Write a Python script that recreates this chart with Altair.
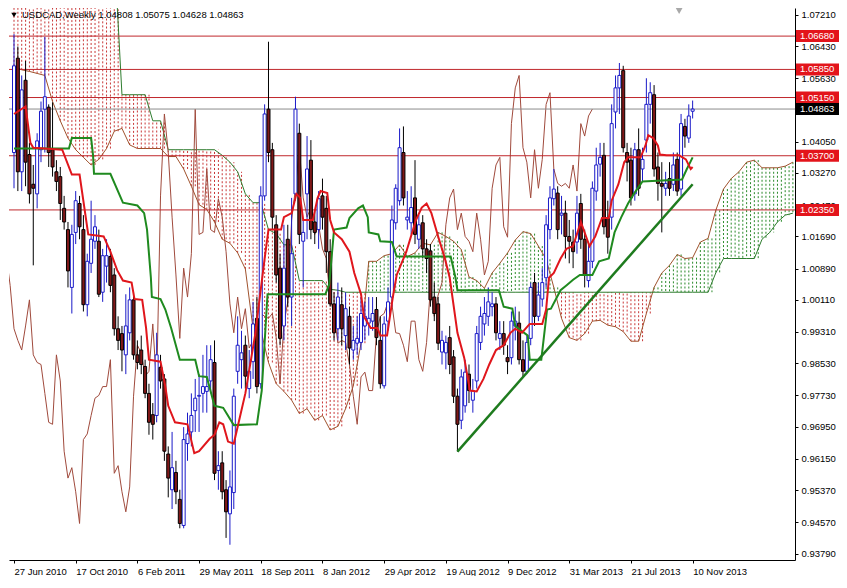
import altair as alt
import pandas as pd

# ---------------- data ----------------
opens = [
    1.0378, 1.0613, 1.0330, 1.0558, 1.0373, 1.0299, 1.0275, 1.0385, 1.0486, 1.0491,
    1.0385, 1.0330, 1.0318, 1.0239, 1.0186, 1.0042, 1.0179, 1.0251, 1.0186, 0.9999,
    1.0102, 1.0157, 1.0157, 1.0030, 1.0095, 1.0119, 1.0073, 0.9939, 0.9927, 0.9874,
    0.9929, 1.0011, 0.9874, 0.9886, 0.9845, 0.9778, 0.9725, 0.9723, 0.9843, 0.9814,
    0.9627, 0.9538, 0.9581, 0.9514, 0.9449, 0.9653, 0.9682, 0.9735, 0.9771, 0.9778,
    0.9783, 0.9809, 0.9855, 0.9586, 0.9605, 0.9538, 0.9478, 0.9531, 0.9833, 0.9862,
    0.9898, 0.9790, 0.9857, 0.9965, 0.9802, 1.0270, 1.0486, 1.0385, 1.0198, 1.0090,
    0.9946, 1.0162, 1.0018, 1.0275, 1.0426, 1.0157, 1.0275, 1.0359, 1.0205, 1.0186,
    1.0270, 1.0239, 1.0131, 1.0001, 0.9939, 0.9999, 0.9922, 0.9970, 0.9886, 0.9903,
    0.9905, 0.9946, 0.9953, 0.9958, 0.9987, 0.9910, 0.9797, 0.9958, 1.0018, 1.0203,
    1.0258, 1.0378, 1.0210, 1.0203, 1.0265, 1.0162, 1.0203, 1.0138, 1.0133, 1.0018,
    1.0001, 0.9881, 0.9879, 0.9917, 0.9869, 0.9771, 0.9711, 0.9747, 0.9826, 0.9761,
    0.9809, 0.9905, 0.9951, 0.9970, 0.9994, 1.0001, 0.9915, 0.9927, 0.9867, 0.9867,
    0.9946, 0.9953, 0.9862, 0.9833, 0.9915, 1.0054, 0.9970, 1.0013, 1.0066, 1.0186,
    1.0263, 1.0277, 1.0222, 1.0227, 1.0169, 1.0155, 1.0155, 1.0251, 1.0162, 1.0059,
    1.0107, 1.0282, 1.0349, 1.0371, 1.0215, 1.0217, 1.0479, 1.0539, 1.0582, 1.0378,
    1.0359, 1.0275, 1.0385, 1.0337, 1.0409, 1.0498, 1.0522, 1.0342, 1.0301, 1.0289,
    1.0313, 1.0299, 1.0361, 1.0287, 1.0443, 1.0414, 1.04808,
]
highs = [
    1.0673, 1.0642, 1.0570, 1.0606, 1.0402, 1.0347, 1.0426, 1.0505, 1.0666, 1.0498,
    1.0503, 1.0359, 1.0342, 1.0270, 1.0205, 1.0198, 1.0282, 1.0270, 1.0222, 1.0126,
    1.0258, 1.0222, 1.0186, 1.0138, 1.0162, 1.0138, 1.0090, 0.9970, 0.9946, 1.0025,
    1.0042, 1.0030, 0.9910, 0.9922, 0.9862, 0.9802, 0.9754, 0.9929, 0.9874, 0.9826,
    0.9646, 0.9682, 0.9610, 0.9538, 0.9694, 0.9730, 0.9778, 0.9814, 0.9826, 0.9874,
    0.9898, 0.9898, 0.9910, 0.9634, 0.9634, 0.9562, 0.9586, 0.9790, 0.9970, 0.9934,
    0.9922, 0.9886, 1.0006, 1.0018, 1.0294, 1.0498, 1.0654, 1.0402, 1.0222, 1.0126,
    1.0198, 1.0198, 1.0265, 1.0517, 1.0450, 1.0210, 1.0419, 1.0409, 1.0234, 1.0282,
    1.0313, 1.0270, 1.0162, 1.0030, 1.0054, 1.0042, 1.0030, 0.9994, 0.9946, 0.9970,
    1.0018, 1.0006, 1.0018, 1.0018, 1.0018, 0.9970, 0.9970, 1.0042, 1.0246, 1.0299,
    1.0438, 1.0443, 1.0282, 1.0294, 1.0359, 1.0222, 1.0222, 1.0162, 1.0150, 1.0054,
    1.0018, 0.9934, 0.9922, 0.9946, 0.9886, 0.9790, 0.9838, 0.9862, 0.9850, 0.9814,
    0.9946, 0.9994, 1.0018, 1.0042, 1.0030, 1.0018, 0.9958, 0.9958, 0.9898, 0.9982,
    0.9994, 0.9982, 0.9910, 0.9922, 1.0054, 1.0078, 1.0054, 1.0090, 1.0222, 1.0294,
    1.0337, 1.0294, 1.0270, 1.0258, 1.0210, 1.0186, 1.0270, 1.0275, 1.0186, 1.0150,
    1.0306, 1.0390, 1.0402, 1.0402, 1.0258, 1.0498, 1.0570, 1.0601, 1.0594, 1.0402,
    1.0390, 1.0402, 1.0438, 1.0390, 1.0563, 1.0553, 1.0546, 1.0378, 1.0354, 1.0330,
    1.0354, 1.0378, 1.0378, 1.0474, 1.0462, 1.0498, 1.05075,
]
lows = [
    1.0289, 1.0282, 1.0282, 1.0294, 1.0251, 1.0097, 1.0239, 1.0354, 1.0378, 1.0342,
    1.0318, 1.0282, 1.0210, 1.0186, 1.0042, 0.9977, 1.0150, 1.0162, 0.9982, 0.9970,
    1.0078, 1.0138, 1.0018, 1.0006, 1.0054, 1.0030, 0.9922, 0.9886, 0.9833, 0.9826,
    0.9910, 0.9862, 0.9838, 0.9826, 0.9766, 0.9675, 0.9663, 0.9706, 0.9790, 0.9610,
    0.9519, 0.9490, 0.9502, 0.9442, 0.9442, 0.9610, 0.9646, 0.9682, 0.9682, 0.9730,
    0.9730, 0.9778, 0.9562, 0.9538, 0.9514, 0.9418, 0.9401, 0.9490, 0.9802, 0.9790,
    0.9790, 0.9766, 0.9814, 0.9778, 0.9790, 1.0258, 1.0354, 1.0186, 1.0054, 0.9898,
    0.9910, 0.9994, 0.9946, 1.0258, 1.0150, 1.0042, 1.0162, 1.0162, 1.0150, 1.0138,
    1.0186, 1.0078, 0.9994, 0.9910, 0.9910, 0.9898, 0.9886, 0.9850, 0.9862, 0.9874,
    0.9886, 0.9910, 0.9922, 0.9934, 0.9898, 0.9790, 0.9790, 0.9934, 0.9994, 1.0186,
    1.0246, 1.0246, 1.0186, 1.0174, 1.0150, 1.0138, 1.0114, 1.0078, 0.9994, 0.9958,
    0.9886, 0.9850, 0.9838, 0.9826, 0.9754, 0.9633, 0.9689, 0.9730, 0.9754, 0.9730,
    0.9790, 0.9886, 0.9922, 0.9946, 0.9970, 0.9910, 0.9886, 0.9874, 0.9826, 0.9850,
    0.9910, 0.9850, 0.9819, 0.9826, 0.9898, 0.9946, 0.9958, 0.9994, 1.0042, 1.0162,
    1.0246, 1.0162, 1.0174, 1.0114, 1.0102, 1.0090, 1.0126, 1.0138, 1.0042, 1.0042,
    1.0090, 1.0258, 1.0318, 1.0174, 1.0126, 1.0186, 1.0438, 1.0474, 1.0378, 1.0306,
    1.0246, 1.0258, 1.0270, 1.0306, 1.0378, 1.0450, 1.0318, 1.0258, 1.0179, 1.0270,
    1.0270, 1.0282, 1.0270, 1.0270, 1.0390, 1.0402, 1.04628,
]
closes = [
    1.0594, 1.0330, 1.0534, 1.0354, 1.0275, 1.0289, 1.0407, 1.0481, 1.0517, 1.0378,
    1.0342, 1.0306, 1.0251, 1.0205, 1.0083, 1.0174, 1.0258, 1.0193, 0.9999, 1.0107,
    1.0162, 1.0193, 1.0025, 1.0121, 1.0121, 1.0047, 0.9939, 0.9910, 0.9886, 0.9946,
    1.0011, 0.9874, 0.9855, 0.9850, 0.9778, 0.9706, 0.9701, 0.9874, 0.9809, 0.9634,
    0.9567, 0.9593, 0.9533, 0.9454, 0.9663, 0.9677, 0.9723, 0.9766, 0.9773, 0.9795,
    0.9795, 0.9862, 0.9579, 0.9598, 0.9533, 0.9483, 0.9545, 0.9771, 0.9898, 0.9879,
    0.9821, 0.9833, 0.9951, 0.9795, 1.0270, 1.0474, 1.0378, 1.0217, 1.0073, 0.9915,
    1.0090, 1.0018, 1.0126, 1.0486, 1.0174, 1.0179, 1.0337, 1.0186, 1.0179, 1.0263,
    1.0217, 1.0131, 1.0001, 0.9929, 1.0018, 0.9939, 0.9989, 0.9891, 0.9910, 0.9915,
    0.9977, 0.9970, 0.9965, 0.9977, 0.9917, 0.9802, 0.9951, 1.0006, 1.0210, 1.0289,
    1.0390, 1.0265, 1.0217, 1.0241, 1.0174, 1.0198, 1.0138, 1.0114, 1.0011, 0.9977,
    0.9903, 0.9910, 0.9905, 0.9850, 0.9771, 0.9701, 0.9819, 0.9831, 0.9785, 0.9785,
    0.9927, 0.9970, 0.9977, 1.0006, 1.0001, 0.9929, 0.9927, 0.9898, 0.9857, 0.9958,
    0.9958, 0.9862, 0.9833, 0.9905, 1.0042, 0.9970, 1.0023, 1.0054, 1.0198, 1.0265,
    1.0287, 1.0186, 1.0227, 1.0169, 1.0157, 1.0131, 1.0227, 1.0162, 1.0073, 1.0107,
    1.0289, 1.0347, 1.0366, 1.0193, 1.0167, 1.0450, 1.0539, 1.0570, 1.0390, 1.0354,
    1.0265, 1.0385, 1.0289, 1.0361, 1.0498, 1.0527, 1.0337, 1.0301, 1.0294, 1.0301,
    1.0289, 1.0347, 1.0282, 1.0450, 1.0419, 1.0469, 1.04863,
]
candle_week = list(range(len(closes)))   # weeks since 27 Jun 2010

# Tenkan-sen (red) and Kijun-sen (green), read at their corners
tenkan_week = [0, 3, 4.25, 5, 12.5, 15, 17, 19.25, 23.25, 25, 26.75, 28.25, 30.5, 31.25, 33.25,
               34.25, 35, 38, 39.25, 40, 41.75, 45, 46.75, 48, 50.75, 52, 53.25, 54.25, 55.5, 57,
               60, 62.5, 65, 66, 69.25, 70, 72, 73.25, 74.25, 75, 77.5, 78.75, 79.5, 81.25, 82,
               83, 85, 87, 88.25, 90, 90.75, 92.5, 94.25, 95, 96.75, 98.25, 99.25, 101.75, 104.25,
               105.75, 107, 108.25, 110, 111.75, 113, 115, 116.75, 118.25, 120, 121.75, 123.25,
               125, 127, 128.75, 130, 131.75, 133.75, 137, 138, 138.75, 140, 141.75, 143.25, 145,
               147, 149.25, 150.75, 152.5, 154.25, 155, 156.75, 158.25, 159.25, 162.5, 163.75,
               164.5, 165.75, 167, 167.5, 169.25, 172.5, 174.25, 175.5, 176]
tenkan_val = [1.0474, 1.0493, 1.0402, 1.0390, 1.0385, 1.0323, 1.0323, 1.0174, 1.0169, 1.0131,
              1.0085, 1.0059, 1.0054, 1.0013, 1.0011, 0.9941, 0.9862, 0.9857, 0.9795, 0.9747,
              0.9706, 0.9701, 0.9629, 0.9634, 0.9665, 0.9675, 0.9706, 0.9701, 0.9658, 0.9653,
              0.9778, 0.9922, 1.0114, 1.0186, 1.0186, 1.0217, 1.0227, 1.0275, 1.0265, 1.0210,
              1.0210, 1.0265, 1.0282, 1.0277, 1.0210, 1.0179, 1.0162, 1.0131, 1.0078, 1.0025,
              0.9970, 0.9941, 0.9941, 0.9922, 0.9922, 1.0018, 1.0073, 1.0131, 1.0210, 1.0241,
              1.0251, 1.0227, 1.0169, 1.0114, 1.0066, 0.9929, 0.9867, 0.9785, 0.9783, 0.9814,
              0.9850, 0.9886, 0.9898, 0.9929, 0.9939, 0.9929, 0.9951, 0.9951, 0.9987, 1.0066,
              1.0078, 1.0114, 1.0138, 1.0145, 1.0205, 1.0145, 1.0169, 1.0215, 1.0215, 1.0258,
              1.0299, 1.0354, 1.0366, 1.0366, 1.0395, 1.0421, 1.0414, 1.0395, 1.0373, 1.0371,
              1.0371, 1.0361, 1.0337, 1.0342]
kijun_week = [0, 14.25, 15, 20, 20.5, 20.75, 25, 28.25, 32, 33.75, 34.5, 35.5, 35.75, 38, 39.25,
              40.75, 43, 47, 48, 50, 52, 54.25, 57, 63, 64.25, 65.75, 80.75, 81.75, 83, 86.25,
              87, 89.25, 90.5, 91.75, 92, 94.5, 95, 98, 99.25, 113.25, 114.5, 115, 125.75, 127,
              129.25, 130, 133.25, 133.75, 136.75, 138.25, 139.25, 141.75, 143.25, 145, 146.75,
              150, 151.75, 154.25, 155.75, 157.5, 159.25, 160.75, 163, 173.25, 174.5, 176]
kijun_val = [1.0388, 1.0388, 1.0414, 1.0414, 1.0371, 1.0325, 1.0325, 1.0253, 1.0246, 1.0227,
             1.0186, 1.0066, 1.0018, 1.0013, 0.9987, 0.9941, 0.9862, 0.9862, 0.9821, 0.9819,
             0.9747, 0.9742, 0.9699, 0.9701, 0.9785, 1.0025, 1.0025, 1.0049, 1.0186, 1.0191,
             1.0215, 1.0239, 1.0246, 1.0217, 1.0179, 1.0174, 1.0157, 1.0155, 1.0119, 1.0119,
             1.0066, 1.0035, 1.0035, 0.9994, 0.9989, 0.9946, 0.9922, 0.9862, 0.9862, 0.9987,
             0.9989, 1.0035, 1.0047, 1.0061, 1.0073, 1.0073, 1.0107, 1.0114, 1.0179, 1.0217,
             1.0251, 1.0275, 1.0306, 1.0311, 1.0337, 1.0366]

# Senkou spans (cloud edges), read every second week, already shifted forward
span_week = list(range(0, 203, 2))
span_a = [1.0594, 1.0584, 1.0580, 1.0575, 1.0570, 1.0505, 1.0457, 1.0414, 1.0385, 1.0366,
          1.0347, 1.0361, 1.0388, 1.0431, 1.0438, 1.0397, 1.0388, 1.0388, 1.0388, 1.0388,
          1.0368, 1.0368, 1.0337, 1.0294, 1.0248, 1.0236, 1.0205, 1.0162, 1.0152, 1.0128,
          1.0088, 0.9939, 0.9936, 0.9855, 0.9802, 0.9783, 0.9761, 0.9728, 0.9740, 0.9711,
          0.9723, 0.9687, 0.9696, 0.9740, 0.9797, 0.9903, 1.0107, 1.0107, 1.0121, 1.0126,
          1.0148, 1.0119, 1.0128, 1.0152, 1.0148, 1.0179, 1.0169, 1.0157, 1.0136, 1.0068,
          1.0059, 1.0040, 1.0078, 1.0102, 1.0128, 1.0160, 1.0181, 1.0176, 1.0145, 1.0112,
          1.0042, 0.9965, 0.9917, 0.9910, 0.9927, 0.9958, 0.9960, 0.9948, 0.9944, 0.9932,
          0.9908, 0.9908, 0.9977, 1.0042, 1.0078, 1.0097, 1.0124, 1.0114, 1.0116, 1.0155,
          1.0164, 1.0234, 1.0287, 1.0313, 1.0330, 1.0354, 1.0359, 1.0340, 1.0340, 1.0340,
          1.0344, 1.0354]
span_b = [1.0882, 1.0882, 1.0882, 1.0882, 1.0882, 1.0882, 1.0882, 1.0882, 1.0882, 1.0882,
          1.0882, 1.0882, 1.0882, 1.0882, 1.0522, 1.0522, 1.0522, 1.0522, 1.0457, 1.0457,
          1.0385, 1.0385, 1.0385, 1.0385, 1.0385, 1.0385, 1.0385, 1.0371, 1.0354, 1.0330,
          1.0275, 1.0253, 1.0253, 1.0186, 1.0176, 1.0148, 1.0148, 1.0059, 1.0059, 1.0059,
          1.0059, 1.0037, 1.0035, 1.0030, 1.0030, 1.0030, 1.0030, 1.0030, 1.0030, 1.0030,
          1.0030, 1.0030, 1.0030, 1.0030, 1.0030, 1.0030, 1.0030, 1.0030, 1.0030, 1.0030,
          1.0030, 1.0030, 1.0030, 1.0030, 1.0030, 1.0030, 1.0030, 1.0030, 1.0030, 1.0030,
          1.0030, 1.0030, 1.0030, 1.0030, 1.0030, 1.0030, 1.0030, 1.0030, 1.0030, 1.0030,
          1.0030, 1.0030, 1.0030, 1.0030, 1.0030, 1.0030, 1.0030, 1.0030, 1.0030, 1.0030,
          1.0030, 1.0078, 1.0114, 1.0114, 1.0114, 1.0114, 1.0114, 1.0162, 1.0179, 1.0205,
          1.0222, 1.0227]

chikou_shift = 26   # Chikou span = close drawn 26 weeks back

level_vals = [1.0668, 1.0585, 1.0515, 1.0370, 1.0235]
level_labels = ["1.06680", "1.05850", "1.05150", "1.03700", "1.02350"]
last_price = [1.04863]
last_label = ["1.04863"]

trend_week = [115, 176]
trend_val = [0.9633, 1.0299]

shift_marker_week = [172.5]   # chart-shift marker at the top edge

ytick_vals = [0.9379, 0.9457, 0.9537, 0.9615, 0.9695, 0.9773, 0.9853, 0.9931, 1.0011,
              1.0089, 1.0169, 1.0247, 1.0327, 1.0405, 1.0485, 1.0563, 1.0643, 1.0721]
xtick_weeks = [0, 16, 32, 48, 64, 80, 96, 112, 128, 144, 160, 176]
xtick_labels = ["27 Jun 2010", "17 Oct 2010", "6 Feb 2011", "29 May 2011", "18 Sep 2011",
                "8 Jan 2012", "29 Apr 2012", "19 Aug 2012", "9 Dec 2012", "31 Mar 2013",
                "21 Jul 2013", "10 Nov 2013"]
title_text = "USDCAD,Weekly  1.04808 1.05075 1.04628 1.04863"

# ---------------- chart ----------------
FONT = "Liberation Sans"
W, H = 786, 552

candles = pd.DataFrame({"week": candle_week, "open": opens, "high": highs,
                        "low": lows, "close": closes})
up = candles[candles["close"] >= candles["open"]]
down = candles[candles["close"] < candles["open"]]
tenkan = pd.DataFrame({"week": tenkan_week, "price": tenkan_val})
kijun = pd.DataFrame({"week": kijun_week, "price": kijun_val})
spans = pd.DataFrame({"week": span_week, "a": span_a, "b": span_b})
levels = pd.DataFrame({"price": level_vals, "label": level_labels})
last = pd.DataFrame({"price": last_price, "label": last_label})
trend = pd.DataFrame({"week": trend_week, "price": trend_val})
marker = pd.DataFrame({"week": shift_marker_week})
one = pd.DataFrame({"t": [title_text]})

xs = alt.Scale(domain=[0, 201.25], nice=False, zero=False)
ys = alt.Scale(domain=[0.9363, 1.0738], nice=False, zero=False)

weeks_js = "[" + ",".join(str(w) for w in xtick_weeks) + "]"
labels_js = "[" + ",".join("'" + s + "'" for s in xtick_labels) + "]"
x_axis = alt.Axis(values=xtick_weeks, labelExpr=f"{labels_js}[indexof({weeks_js}, datum.value)]",
                  labelAlign="left", labelBaseline="top", labelPadding=3, tickSize=3,
                  tickColor="black", domainColor="black", labelColor="black", labelFont=FONT,
                  labelFontSize=9.5, grid=False, labelOverlap=False, labelFlush=False)
y_axis = alt.Axis(orient="right", values=ytick_vals, format=".5f", tickSize=3, tickColor="black",
                  domainColor="black", labelColor="black", labelFont=FONT, labelFontSize=9.5,
                  labelPadding=3, grid=False, labelOverlap=False, labelFlush=False)


def X(field):
    return alt.X(f"{field}:Q", scale=xs, axis=x_axis, title=None)


def Y(field):
    return alt.Y(f"{field}:Q", scale=ys, axis=y_axis, title=None)


layers = []
# cloud hatching
for cond, col in [("datum.b > datum.a", "#c83737"), ("datum.a > datum.b", "#2a8a2a")]:
    for off in [0, 3.9]:
        layers.append(
            alt.Chart(spans).transform_filter(cond)
            .mark_rule(strokeDash=[2, 2], strokeWidth=1, color=col, clip=True, xOffset=off)
            .encode(x=X("week"), y=Y("a"), y2="b:Q")
        )
# cloud edges
layers.append(alt.Chart(spans).mark_line(color="#a0522d", strokeWidth=1, clip=True)
              .encode(x=X("week"), y=Y("a")))
layers.append(alt.Chart(spans).mark_line(color="#2f7d2f", strokeWidth=1, clip=True)
              .encode(x=X("week"), y=Y("b")))
# chikou span
layers.append(alt.Chart(candles).transform_calculate(cw=f"datum.week - {chikou_shift}")
              .mark_line(color="#a04a3c", strokeWidth=1, clip=True)
              .encode(x=X("cw"), y=Y("close")))
# horizontal levels
layers.append(alt.Chart(levels).mark_rule(color="#c0282d", strokeWidth=1)
              .encode(y=Y("price")))
layers.append(alt.Chart(last).mark_rule(color="#8c8c8c", strokeWidth=1)
              .encode(y=Y("price")))
# candles: wicks then bodies
layers.append(alt.Chart(up).mark_rule(strokeWidth=1, color="#1a1ac8", clip=True)
              .encode(x=X("week"), y=Y("low"), y2="high:Q"))
layers.append(alt.Chart(down).mark_rule(strokeWidth=1, color="#000000", clip=True)
              .encode(x=X("week"), y=Y("low"), y2="high:Q"))
layers.append(alt.Chart(up).mark_bar(size=3, strokeWidth=1, fill="#ffffff", stroke="#1a1ac8",
                                     clip=True)
              .encode(x=X("week"), y=Y("open"), y2="close:Q"))
layers.append(alt.Chart(down).mark_bar(size=3, strokeWidth=1, fill="#801818", stroke="#000000",
                                       clip=True)
              .encode(x=X("week"), y=Y("open"), y2="close:Q"))
# kijun / tenkan
layers.append(alt.Chart(kijun).mark_line(color="#1f8a1f", strokeWidth=2, clip=True)
              .encode(x=X("week"), y=Y("price")))
layers.append(alt.Chart(tenkan).mark_line(color="#e0161c", strokeWidth=2, clip=True)
              .encode(x=X("week"), y=Y("price")))
# trend line
layers.append(alt.Chart(trend).mark_line(color="#1e7b1e", strokeWidth=2.5)
              .encode(x=X("week"), y=Y("price")))
# chart-shift marker
layers.append(alt.Chart(marker).mark_point(shape="triangle-down", filled=True, color="#a8a8a8",
                                            size=45, opacity=1)
              .encode(x=X("week"), y=alt.value(3)))
# price boxes on the right axis
for frame, col in [(levels, "#e3141b"), (last, "#000000")]:
    layers.append(alt.Chart(frame)
                  .transform_calculate(top="datum.price + 0.0015", bot="datum.price - 0.0015")
                  .mark_rect(color=col)
                  .encode(x=alt.value(W + 1), x2=alt.value(W + 44), y=Y("top"), y2="bot:Q"))
    layers.append(alt.Chart(frame).mark_text(align="left", baseline="middle", color="white",
                                              font=FONT, fontSize=9.5)
                  .encode(x=alt.value(W + 5), y=Y("price"), text="label:N"))
# title
layers.append(alt.Chart(one).mark_point(shape="triangle-down", filled=True, color="black",
                                         size=30, opacity=1)
              .encode(x=alt.value(5), y=alt.value(7)))
layers.append(alt.Chart(one).mark_text(align="left", baseline="middle", color="black",
                                        font=FONT, fontSize=9.5)
              .encode(x=alt.value(13), y=alt.value(7), text="t:N"))

chart = (alt.layer(*layers)
         .properties(width=W, height=H, padding=0, background="white")
         .configure_view(stroke=None))

chart.save("out.html", embed_options={"renderer": "svg", "actions": False})
